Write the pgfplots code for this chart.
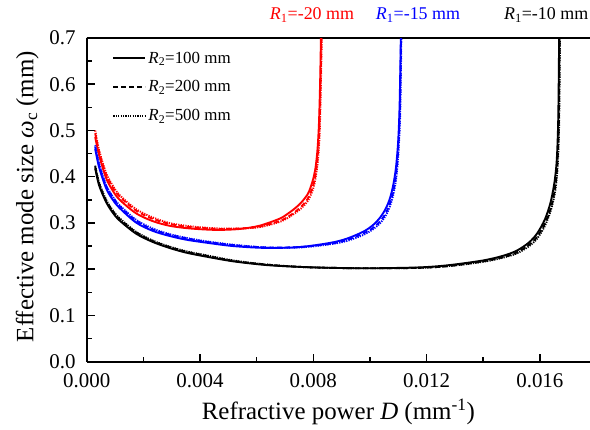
\documentclass[border=0pt]{standalone}
\usepackage{fontspec}
\setmainfont{Liberation Serif}
\usepackage{pgfplots}
\pgfplotsset{compat=1.18}
\definecolor{myred}{RGB}{255,0,0}
\definecolor{myblue}{RGB}{0,0,255}
\tikzset{
  sol/.style={line width=1.9bp, solid},
  dsh/.style={line width=1.9bp, dash pattern=on 5bp off 3bp},
  dtt/.style={line width=1.9bp, dash pattern=on 1.2bp off 1.2bp},
}
\begin{document}
\begin{tikzpicture}
\begin{axis}[
  scale only axis, width=503.3bp, height=323.7bp,
  xmin=0, xmax=0.01777, ymin=0, ymax=0.7,
  axis x line*=box, axis y line*=left,
  axis line style={line width=2bp, black},
  xtick={0,0.004,0.008,0.012,0.016},
  minor xtick={0.002,0.006,0.010,0.014},
  ytick={0,0.1,0.2,0.3,0.4,0.5,0.6,0.7},
  minor ytick={0.05,0.15,0.25,0.35,0.45,0.55,0.65},
  tick align=inside, xtick pos=bottom, ytick pos=left,
  major tick length=8bp, minor tick length=5bp,
  every tick/.style={black, line width=1.5bp},
  scaled x ticks=false, scaled y ticks=false,
  /pgf/number format/assume math mode=true,
  xticklabel style={/pgf/number format/.cd, fixed, fixed zerofill, precision=3, /tikz/.cd, font=\fontsize{21}{24}\selectfont, inner sep=1bp, yshift=-11bp},
  yticklabel style={/pgf/number format/.cd, fixed, fixed zerofill, precision=1, /tikz/.cd, font=\fontsize{21}{24}\selectfont, inner sep=1bp, xshift=-10bp},
  xlabel={Refractive power \textit{D} (mm\textsuperscript{-1})},
  ylabel={Effective mode size \textit{ω}\textsubscript{c} (mm)},
  label style={font=\fontsize{25}{28}\selectfont},
  xlabel style={at={(axis description cs:0.5,-0.18)}, anchor=base},
  ylabel style={at={(axis description cs:-0.118,0.51)}, anchor=center},
  legend style={draw=none, fill=none, at={(0.045,0.97)}, anchor=north west,
    font=\fontsize{17}{20}\selectfont, row sep=12bp},
  legend cell align=left,
  legend image code/.code={\draw[#1] (0bp,0bp) -- (32bp,0bp);},
]
\addlegendimage{black, sol}
\addlegendentry{\textit{R}\textsubscript{2}=100 mm}
\addlegendimage{black, dsh}
\addlegendentry{\textit{R}\textsubscript{2}=200 mm}
\addlegendimage{black, dtt}
\addlegendentry{\textit{R}\textsubscript{2}=500 mm}

% red R1=-20
\addplot[myred, sol, smooth, forget plot] coordinates {(0.00030,0.486)(0.00044,0.446)(0.00068,0.398)(0.00090,0.372)(0.00115,0.351)(0.00174,0.321)(0.00233,0.304)(0.00292,0.294)(0.00350,0.289)(0.00415,0.286)(0.00470,0.285)(0.00540,0.287)(0.00610,0.294)(0.00680,0.309)(0.00710,0.320)(0.00740,0.334)(0.00760,0.346)(0.00780,0.362)(0.00790,0.376)(0.00800,0.396)(0.00808,0.420)(0.00815,0.460)(0.00820,0.515)(0.00824,0.600)(0.00827,0.700)};
\addplot[myred, dsh, smooth, forget plot] coordinates {(0.00030,0.494)(0.00044,0.453)(0.00068,0.405)(0.00090,0.379)(0.00115,0.358)(0.00174,0.327)(0.00233,0.309)(0.00292,0.298)(0.00350,0.292)(0.00415,0.289)(0.00470,0.287)(0.00540,0.288)(0.00610,0.292)(0.00680,0.304)(0.00710,0.313)(0.00740,0.326)(0.00760,0.337)(0.00780,0.352)(0.00790,0.365)(0.00800,0.382)(0.00808,0.405)(0.00815,0.440)(0.00821,0.495)(0.00825,0.580)(0.00829,0.700)};
\addplot[myred, dtt, smooth, forget plot] coordinates {(0.00030,0.500)(0.00044,0.457)(0.00068,0.409)(0.00090,0.383)(0.00115,0.361)(0.00174,0.330)(0.00233,0.312)(0.00292,0.300)(0.00350,0.294)(0.00415,0.290)(0.00470,0.288)(0.00540,0.288)(0.00610,0.291)(0.00680,0.302)(0.00710,0.311)(0.00740,0.323)(0.00760,0.333)(0.00780,0.347)(0.00790,0.359)(0.00800,0.375)(0.00808,0.397)(0.00816,0.432)(0.00822,0.487)(0.00826,0.575)(0.00830,0.700)};

% blue R1=-15
\addplot[myblue, sol, smooth, forget plot] coordinates {(0.00030,0.460)(0.00044,0.420)(0.00068,0.376)(0.00090,0.352)(0.00115,0.333)(0.00174,0.301)(0.00233,0.283)(0.00292,0.272)(0.00350,0.264)(0.00415,0.258)(0.00518,0.250)(0.00635,0.246)(0.00753,0.248)(0.00860,0.257)(0.00918,0.266)(0.00976,0.281)(0.01010,0.295)(0.01035,0.311)(0.01055,0.330)(0.01070,0.352)(0.01082,0.381)(0.01092,0.420)(0.01100,0.480)(0.01105,0.560)(0.01109,0.700)};
\addplot[myblue, dsh, smooth, forget plot] coordinates {(0.00030,0.465)(0.00044,0.425)(0.00068,0.381)(0.00090,0.357)(0.00115,0.337)(0.00174,0.305)(0.00233,0.286)(0.00292,0.275)(0.00350,0.267)(0.00415,0.260)(0.00518,0.252)(0.00635,0.247)(0.00753,0.248)(0.00860,0.255)(0.00918,0.263)(0.00976,0.277)(0.01010,0.289)(0.01035,0.303)(0.01055,0.320)(0.01070,0.341)(0.01082,0.367)(0.01092,0.403)(0.01100,0.460)(0.01106,0.545)(0.01110,0.700)};
\addplot[myblue, dtt, smooth, forget plot] coordinates {(0.00030,0.468)(0.00044,0.428)(0.00068,0.383)(0.00090,0.359)(0.00115,0.339)(0.00174,0.307)(0.00233,0.288)(0.00292,0.276)(0.00350,0.268)(0.00415,0.261)(0.00518,0.253)(0.00635,0.247)(0.00753,0.247)(0.00860,0.254)(0.00918,0.261)(0.00976,0.274)(0.01010,0.286)(0.01035,0.299)(0.01055,0.315)(0.01070,0.335)(0.01082,0.360)(0.01093,0.397)(0.01101,0.455)(0.01107,0.540)(0.01111,0.700)};

% black R1=-10
\addplot[black, sol, smooth, forget plot] coordinates {(0.00030,0.418)(0.00044,0.381)(0.00068,0.346)(0.00090,0.324)(0.00115,0.306)(0.00174,0.277)(0.00233,0.259)(0.00292,0.246)(0.00350,0.236)(0.00415,0.228)(0.00518,0.217)(0.00635,0.209)(0.00753,0.205)(0.00860,0.203)(0.01000,0.202)(0.01177,0.204)(0.01282,0.209)(0.01400,0.219)(0.01470,0.229)(0.01518,0.240)(0.01560,0.257)(0.01590,0.277)(0.01618,0.308)(0.01638,0.345)(0.01652,0.390)(0.01660,0.440)(0.01665,0.530)(0.01668,0.700)};
\addplot[black, dsh, smooth, forget plot] coordinates {(0.00030,0.422)(0.00044,0.385)(0.00068,0.349)(0.00090,0.327)(0.00115,0.309)(0.00174,0.280)(0.00233,0.261)(0.00292,0.248)(0.00350,0.238)(0.00415,0.230)(0.00518,0.218)(0.00635,0.210)(0.00753,0.205)(0.00860,0.203)(0.01000,0.202)(0.01177,0.203)(0.01282,0.207)(0.01400,0.217)(0.01470,0.226)(0.01518,0.236)(0.01560,0.252)(0.01590,0.270)(0.01618,0.299)(0.01640,0.335)(0.01654,0.378)(0.01662,0.430)(0.01667,0.520)(0.01670,0.700)};
\addplot[black, dtt, smooth, forget plot] coordinates {(0.00030,0.424)(0.00044,0.387)(0.00068,0.351)(0.00090,0.329)(0.00115,0.311)(0.00174,0.281)(0.00233,0.262)(0.00292,0.249)(0.00350,0.239)(0.00415,0.231)(0.00518,0.219)(0.00635,0.210)(0.00753,0.205)(0.00860,0.203)(0.01000,0.202)(0.01177,0.203)(0.01282,0.207)(0.01400,0.216)(0.01470,0.225)(0.01518,0.234)(0.01560,0.249)(0.01590,0.266)(0.01618,0.294)(0.01640,0.330)(0.01655,0.372)(0.01663,0.425)(0.01668,0.515)(0.01671,0.700)};
\end{axis}
\node[anchor=base, text=myred, font=\fontsize{18}{21}\selectfont] at (225.3bp,341.7bp) {\textit{R}\textsubscript{1}=-20 mm};
\node[anchor=base, text=myblue, font=\fontsize{18}{21}\selectfont] at (331.3bp,341.7bp) {\textit{R}\textsubscript{1}=-15 mm};
\node[anchor=base, text=black, font=\fontsize{18}{21}\selectfont] at (459.5bp,341.7bp) {\textit{R}\textsubscript{1}=-10 mm};
\pgfresetboundingbox
\useasboundingbox (-86.7bp,-68.3bp) rectangle (503.3bp,361.7bp);
\end{tikzpicture}
\end{document}
